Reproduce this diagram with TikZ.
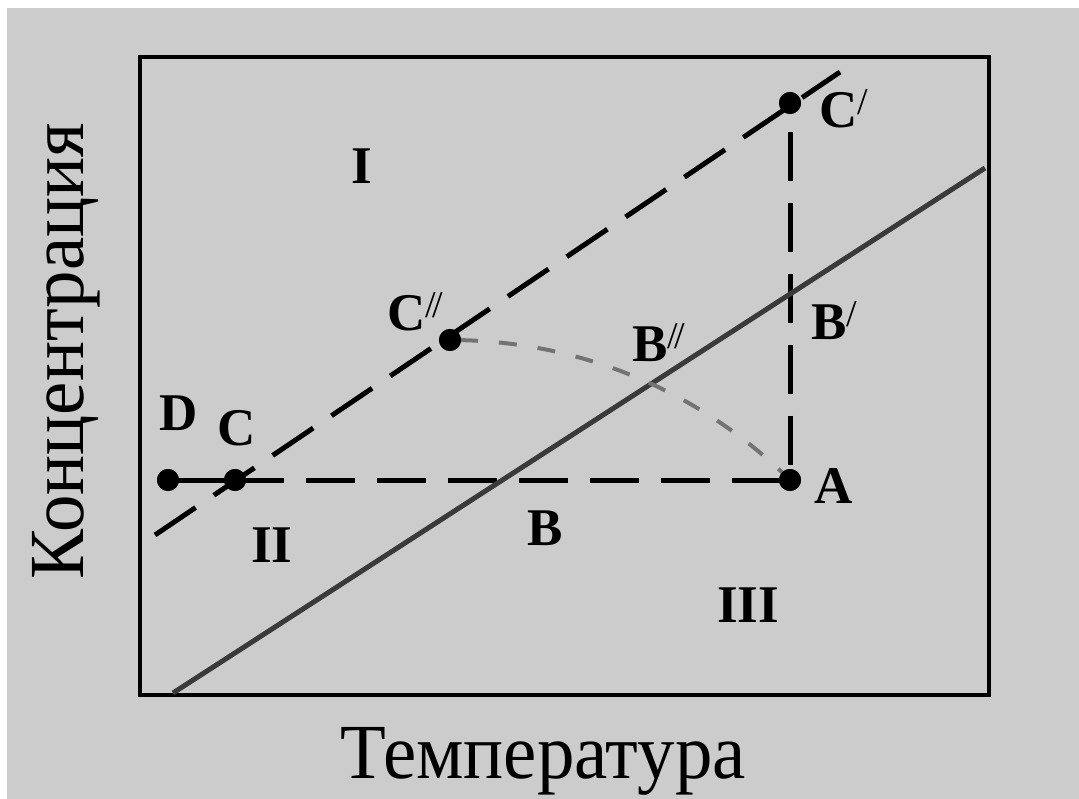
\documentclass[tikz,border=0pt]{standalone}
\usepackage{fontspec}
\setmainfont{Liberation Serif}
\usetikzlibrary{scopes}

\definecolor{bggrey}{HTML}{CCCCCC}
\definecolor{linegrey}{HTML}{3A3A3A}
\definecolor{arcgrey}{HTML}{737373}

\newcommand{\sls}{\raisebox{13pt}{\fontsize{38}{38}\selectfont\mdseries /}}
\newcommand{\dsls}{\raisebox{13pt}{\fontsize{38}{38}\selectfont\mdseries /\kern-4pt/}}

\tikzset{
  pt/.style={circle, fill=black, inner sep=0pt, minimum size=22pt},
  lbl/.style={anchor=base west, inner sep=0pt, font=\fontsize{53}{53}\selectfont\bfseries},
  axislbl/.style={inner sep=0pt, font=\fontsize{78}{78}\selectfont},
  blackdash/.style={line width=5pt, dash pattern=on 49pt off 22pt},
}

\begin{document}
\begin{tikzpicture}[x=1pt, y=-1pt]
  \useasboundingbox (0,0) rectangle (1079,799);
  \fill[bggrey] (7,8) rectangle (1079,799);
  % frame
  \draw[line width=4.5pt] (140,57) rectangle (989,695);

  % points
  \node[pt] (D) at (168,480) {};
  \node[pt] (C) at (235,480) {};
  \node[pt] (A) at (790,480) {};
  \node[pt] (C1) at (790,103) {};
  \node[pt] (C2) at (450,340) {};
  \coordinate (cl0) at (155,535);
  \coordinate (cl1) at (840,72);
  \coordinate (sl0) at (173,693);
  \coordinate (sl1) at (985,168);

  % lines
  { [blackdash]
    \draw[solid] (D.center) -- (C.center);
    \draw (C.center) -- (A.center);
    \draw[dash phase=42pt] (C1.center) -- (A.center);
    \draw (cl0) -- (cl1);
  }
  \draw[line width=5pt, linegrey] (sl0) -- (sl1);
  \draw[line width=4pt, arcgrey, dash pattern=on 18pt off 21pt, dash phase=-10pt]
    (C2.center) .. controls +(128,0) and +(-91,-90) .. (A.center);

  % dots on top
  \foreach \p in {D,C,A,C1,C2}
    \fill (\p) circle (11pt);

  % labels
  \node[lbl] (lD) at (159,430) {D};
  \node[lbl] (lC) at (217,445) {C};
  \node[lbl] (lA) at (814,503) {A};
  \node[lbl] (lC1) at (819,128) {C\sls};
  \node[lbl] (lC2) at (387,331) {C\dsls};
  \node[lbl] (lB2) at (632,362) {B\dsls};
  \node[lbl] (lB1) at (811,340) {B\sls};
  \node[lbl] (lB) at (527,545) {B};
  \node[lbl] (lI) at (351,184) {I};
  \node[lbl] (lII) at (251,562) {II};
  \node[lbl] (lIII) at (717,622) {III};

  % axes
  \node[axislbl, anchor=base, xscale=0.96] (xlab) at (543,778) {Температура};
  \node[axislbl, rotate=90, xscale=0.96] (ylab) at (66,351) {Концентрация};
\end{tikzpicture}
\end{document}
